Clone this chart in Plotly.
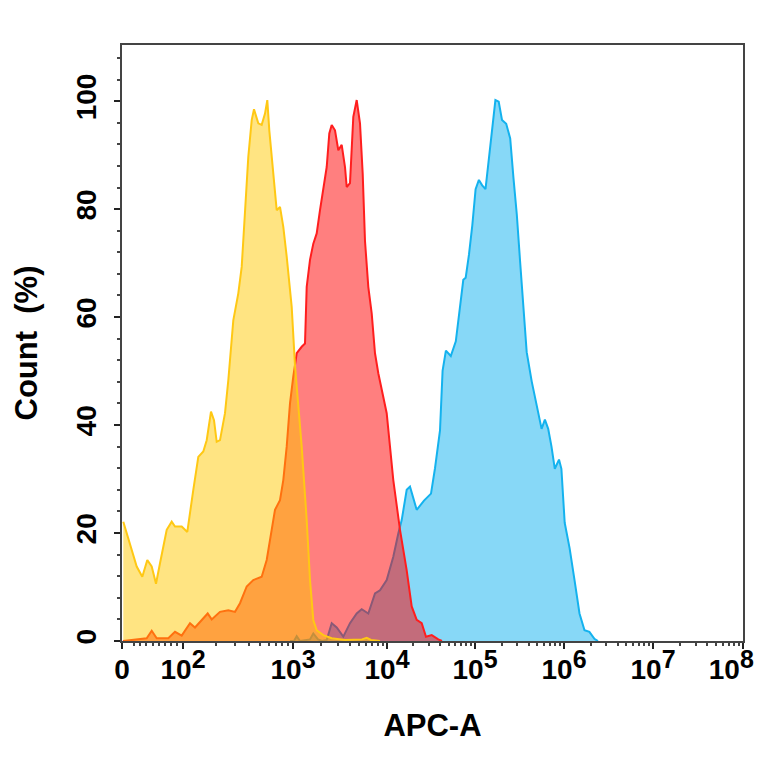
import numpy as np
import plotly.graph_objects as go

# x values are display channels on the biexponential APC-A scale (0 .. 621)
tick_pos = [0, 61, 171, 265, 353, 442, 531, 621]
tick_exp = ["", "2", "3", "4", "5", "6", "7", "8"]

yellow_x = [1.3, 8, 14.7, 20.3, 25.3, 29.7, 34, 38, 44.7, 49.7, 53, 59.7, 65.3, 71.3,
            76.3, 81.3, 84.7, 89, 92, 94.7, 98, 103, 106.3, 111.3, 116.3, 119.7, 123,
            126.3, 129.7, 132, 136.3, 139.7, 143, 145.3, 147.3, 149.7, 153, 154.7, 158,
            161.3, 164.7, 169.7, 173, 179.7, 184.7, 188, 191.3, 194.7, 201.3, 209.7,
            223, 240, 244.7, 249, 258]
yellow_y = [22.1, 18.1, 13.8, 11.9, 15.0, 13.8, 10.6, 14.4, 20.6, 22.1, 21.2, 21.2, 20.2, 28.0,
            34.1, 35.1, 37.2, 42.5, 40.9, 36.9, 37.2, 42.2, 48.3, 59.4, 64.4, 69.3, 80.4,
            89.7, 96.5, 98.5, 95.9, 95.6, 97.7, 100.2, 94.6, 89.7, 83.5, 79.8, 80.4,
            76.7, 71.2, 61.9, 51.0, 36.0, 22.4, 11.3, 3.9, 2.0, 1.1, 0.5,
            0.2, 0.3, 0.6, 0.2, 0]

red_x = [1, 13, 24.7, 29.7, 34.7, 46.3, 53, 59.7, 68, 73, 79.7, 85.7, 89.7, 98, 106.3,
         113, 118, 124.7, 131.3, 139.7, 144.7, 148, 153, 158, 161.3, 164.7, 168, 171.3,
         174.7, 179.7, 183, 184.7, 188, 191.3, 194.7, 198, 201.3, 204.7, 207.3, 209.7,
         213, 216.3, 219.7, 223, 224.7, 228, 231.3, 234.7, 238, 240.7, 243, 246.3, 249.7,
         253, 256.3, 259.5, 264.7, 271.3, 278, 284.7, 289.7, 294.7, 299.7, 304, 309.7,
         316.3, 320]
red_y = [0, 0.2, 0.5, 1.9, 0.5, 0.5, 1.7, 1.0, 3.3, 2.5, 3.9, 5.1, 4.0, 5.4, 5.7,
         5.4, 7.0, 10.1, 11.3, 11.9, 15.0, 18.7, 24.3, 26.1, 29.8, 36.0, 44.0, 49.0,
         53.3, 54.5, 55.1, 65.6, 70.6, 73.6, 75.5, 79.8, 83.5, 87.8, 94.0, 95.6,
         94.6, 90.9, 91.9, 87.8, 84.1, 84.8, 97.1, 100.2, 95.9, 86.6, 74.1, 65.6, 60.7,
         53.3, 49.6, 47.0, 42.2, 29.8, 20.6, 13.1, 6.4, 3.9, 3.3, 0.8, 1.1,
         0.3, 0]

blue_x = [168, 172, 174.7, 178, 188, 191.3, 196, 200, 204.7, 209.7, 214.7, 221.3, 228,
          234.7, 239.7, 246.3, 253, 258, 264.7, 271.3, 276.3, 279.7, 284.7, 288, 294.7,
          302, 309, 313, 318, 320.6, 323.9, 328.8, 333.8, 337.1, 341.3, 343.7, 347,
          350.3, 353.6, 356.9, 360.2, 363.5, 366.8, 370.1, 373.4, 376.7, 380, 384.2,
          388.2, 391.5, 394.8, 398.1, 401.4, 404.7, 409.7, 414.6, 419.6, 422.9, 426.2,
          429.5, 432.8, 437, 439.4, 442.7, 447.6, 452.6, 457.5, 462.5, 467.4, 472.4, 476]
blue_y = [0, 0, 0.9, 0, 0.3, 1.4, 0.3, 0, 0.2, 3.3, 2.5, 0.8, 3.3,
          5.1, 5.9, 5.1, 8.8, 9.4, 11.3, 15.6, 19.9, 22.4, 28.0, 28.6, 24.3,
          26.0, 27.3, 32.0, 39.0, 50.1, 53.8, 52.8, 55.5, 60.2, 66.9, 67.3, 71.6,
          77.0, 83.7, 85.4, 84.4, 83.7, 89.1, 95.2, 100.2, 99.9, 96.5, 95.8,
          93.1, 85.7, 79.0, 70.3, 60.9, 53.5, 48.1, 43.4, 39.3, 41.0, 39.3,
          36.0, 31.9, 33.6, 31.9, 21.9, 17.2, 11.2, 5.1, 2.0, 1.7, 0.4, 0]

tick_text = ["0"] + ["10<sup><span style='font-size:25px'>%s</span></sup>" % e
                     for e in tick_exp[1:]]
# last label sits pulled in from the right edge, as in the original
tick_text[-1] += "\u00a0\u00a0\u00a0"

# minor tick positions: 2..9 x 10^k placed on the same display scale
minor_pos = []
for k in range(1, 8):
    for m in range(2, 10):
        v = m * 10 ** k
        if k == 1:
            minor_pos.append(v / 100 * tick_pos[1])
        else:
            minor_pos.append(float(np.interp(np.log10(v), range(2, 9), tick_pos[1:])))

font_family = "Liberation Sans, Arial, sans-serif"

fig = go.Figure()
series = [
    (blue_x, blue_y, "rgb(20,178,238)", "rgba(15,177,239,0.5)"),
    (red_x, red_y, "rgb(255,30,30)", "rgba(255,0,0,0.5)"),
    (yellow_x, yellow_y, "rgb(255,200,20)", "rgba(255,200,0,0.49)"),
]
for xs, ys, line_col, fill_col in series:
    fig.add_trace(go.Scatter(x=xs, y=ys, mode="lines", fill="tozeroy",
                             line=dict(color=line_col, width=2),
                             fillcolor=fill_col, showlegend=False))

# page body adds an 8px offset, so the figure is 756 px square
fig.update_layout(
    width=756, height=756,
    margin=dict(l=114, r=21, t=37, b=123),
    paper_bgcolor="white", plot_bgcolor="white",
    font=dict(family=font_family, color="black"),
)
fig.update_xaxes(
    range=[0, 621], tickmode="array", tickvals=tick_pos, ticktext=tick_text,
    ticks="outside", ticklen=6, tickwidth=1.5, tickcolor="#222",
    showline=True, linecolor="#444", linewidth=1.5, mirror=True, showgrid=False,
    zeroline=False, automargin=False, ticklabeloverflow="allow", ticklabelstandoff=-3,
    tickfont=dict(size=28, weight="bold"),
    minor=dict(tickvals=minor_pos, ticks="outside", ticklen=3, tickcolor="#444"),
    title=dict(text="APC-A", font=dict(size=31, weight="bold"), standoff=30),
)
fig.update_yaxes(
    range=[0, 110.4], tickvals=[0, 20, 40, 60, 80, 100], tickangle=-90,
    ticks="outside", ticklen=6, tickwidth=1.5, tickcolor="#222",
    showline=True, linecolor="#444", linewidth=1.5, mirror=True, showgrid=False,
    zeroline=False, automargin=False, ticklabelstandoff=7,
    tickfont=dict(size=28, weight="bold"),
    minor=dict(dtick=4, ticks="outside", ticklen=3, tickcolor="#444"),
    title=dict(text="Count\u00a0 (%)", font=dict(size=31, weight="bold"), standoff=24),
)

fig.write_html("out.html")
